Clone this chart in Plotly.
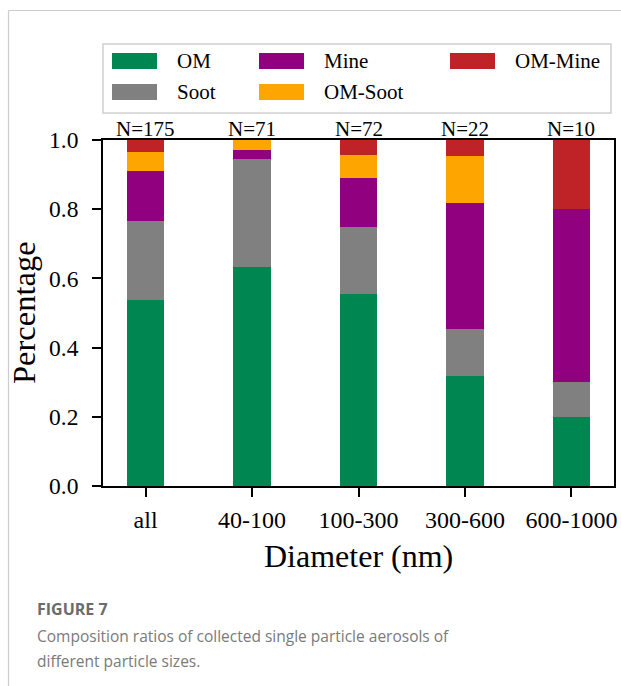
import plotly.graph_objects as go

W, H = 621, 686

categories = ["all", "40-100", "100-300", "300-600", "600-1000"]
counts = [175, 71, 72, 22, 10]
series_names = ["OM", "Soot", "Mine", "OM-Soot", "OM-Mine"]
om = [0.537, 0.634, 0.556, 0.318, 0.20]
soot = [0.229, 0.310, 0.194, 0.136, 0.10]
mine = [0.143, 0.028, 0.139, 0.364, 0.50]
om_soot = [0.057, 0.028, 0.069, 0.136, 0.0]
om_mine = [0.034, 0.0, 0.042, 0.046, 0.20]
colors = ["#008751", "#808080", "#91007E", "#FFA500", "#C02327"]
yticks = [0.0, 0.2, 0.4, 0.6, 0.8, 1.0]

values = [om, soot, mine, om_soot, om_mine]

SERIF = "Liberation Serif"

def px(x):
    return x / W

def py(y):
    return 1 - y / H

fig = go.Figure()
for name, vals, col in zip(series_names, values, colors):
    fig.add_trace(go.Bar(x=categories, y=vals, name=name, marker_color=col,
                         marker_line_width=0, width=0.35, showlegend=False))

# plot area in pixels
L, R, T, B = 103, 614, 140, 486

axis_common = dict(showline=True, linecolor="black", linewidth=1.8, mirror=True,
                   ticks="outside", ticklen=9, tickwidth=1.8, tickcolor="black",
                   showgrid=False, zeroline=False, automargin=False)

fig.update_layout(
    width=W, height=H, barmode="stack", showlegend=False,
    margin=dict(l=0, r=0, t=0, b=0, autoexpand=False),
    paper_bgcolor="white", plot_bgcolor="white",
    font=dict(family=SERIF, color="black", size=22),
    xaxis=dict(domain=[px(L), px(R)], range=[-0.4, 4.4], type="category",
               ticklabelstandoff=2, tickfont=dict(family=SERIF, size=24),
               **axis_common),
    yaxis=dict(domain=[py(B), py(T)], range=[0, 1.0],
               tickvals=yticks, ticktext=[f"{v:.1f}" for v in yticks],
               ticklabelstandoff=9, tickfont=dict(family=SERIF, size=23.5),
               **axis_common),
)

ann = []
shapes = []
# N labels above bars
for c, n in zip(categories, counts):
    ann.append(dict(x=c, xref="x", y=py(129), yref="paper", text=f"N={n}",
                    showarrow=False, font=dict(family=SERIF, size=21),
                    xanchor="center", yanchor="middle"))

# axis titles
ann.append(dict(x=px(358), y=py(556), xref="paper", yref="paper",
                text="Diameter (nm)", showarrow=False,
                font=dict(family=SERIF, size=32), xanchor="center", yanchor="middle"))
ann.append(dict(x=px(24), y=py(313), xref="paper", yref="paper",
                text="Percentage", showarrow=False, textangle=-90,
                font=dict(family=SERIF, size=32.5), xanchor="center", yanchor="middle"))

# legend box
shapes.append(dict(type="rect", xref="paper", yref="paper",
                   x0=px(103), x1=px(611), y0=py(113), y1=py(44),
                   line=dict(color="#d0d0d0", width=1.5), fillcolor="white"))
legend_pos = [(112, 61), (112, 92), (259, 61), (259, 92), (450, 61)]
for (lx, ly), name, col in zip(legend_pos, series_names, colors):
    shapes.append(dict(type="rect", xref="paper", yref="paper",
                       x0=px(lx), x1=px(lx + 45), y0=py(ly + 8), y1=py(ly - 8),
                       line=dict(width=0), fillcolor=col))
    ann.append(dict(x=px(lx + 63), y=py(ly), xref="paper", yref="paper",
                    text=name, showarrow=False, font=dict(family=SERIF, size=21),
                    xanchor="left", yanchor="middle"))

# card border
shapes.append(dict(type="line", xref="paper", yref="paper",
                   x0=px(8.5), x1=1.0, y0=py(10.5), y1=py(10.5),
                   line=dict(color="#cccccc", width=1.2)))
shapes.append(dict(type="line", xref="paper", yref="paper",
                   x0=px(8.5), x1=px(8.5), y0=py(10.5), y1=0,
                   line=dict(color="#cccccc", width=1.2)))

# caption
CAP = "Open Sans"
ann.append(dict(x=px(35), y=py(609), xref="paper", yref="paper",
                text="<b>FIGURE 7</b>", showarrow=False,
                font=dict(family=CAP, size=16, color="#6b6b6b"),
                xanchor="left", yanchor="middle"))
ann.append(dict(x=px(35), y=py(636), xref="paper", yref="paper",
                text="Composition ratios of collected single particle aerosols of",
                showarrow=False, font=dict(family=CAP, size=15.5, color="#7a7a7a"),
                xanchor="left", yanchor="middle"))
ann.append(dict(x=px(35), y=py(661), xref="paper", yref="paper",
                text="different particle sizes.",
                showarrow=False, font=dict(family=CAP, size=15.5, color="#7a7a7a"),
                xanchor="left", yanchor="middle"))

fig.update_layout(annotations=ann, shapes=shapes)

fig.write_html("out.html", config={"displayModeBar": False},
               post_script="document.body.style.margin='0';")
